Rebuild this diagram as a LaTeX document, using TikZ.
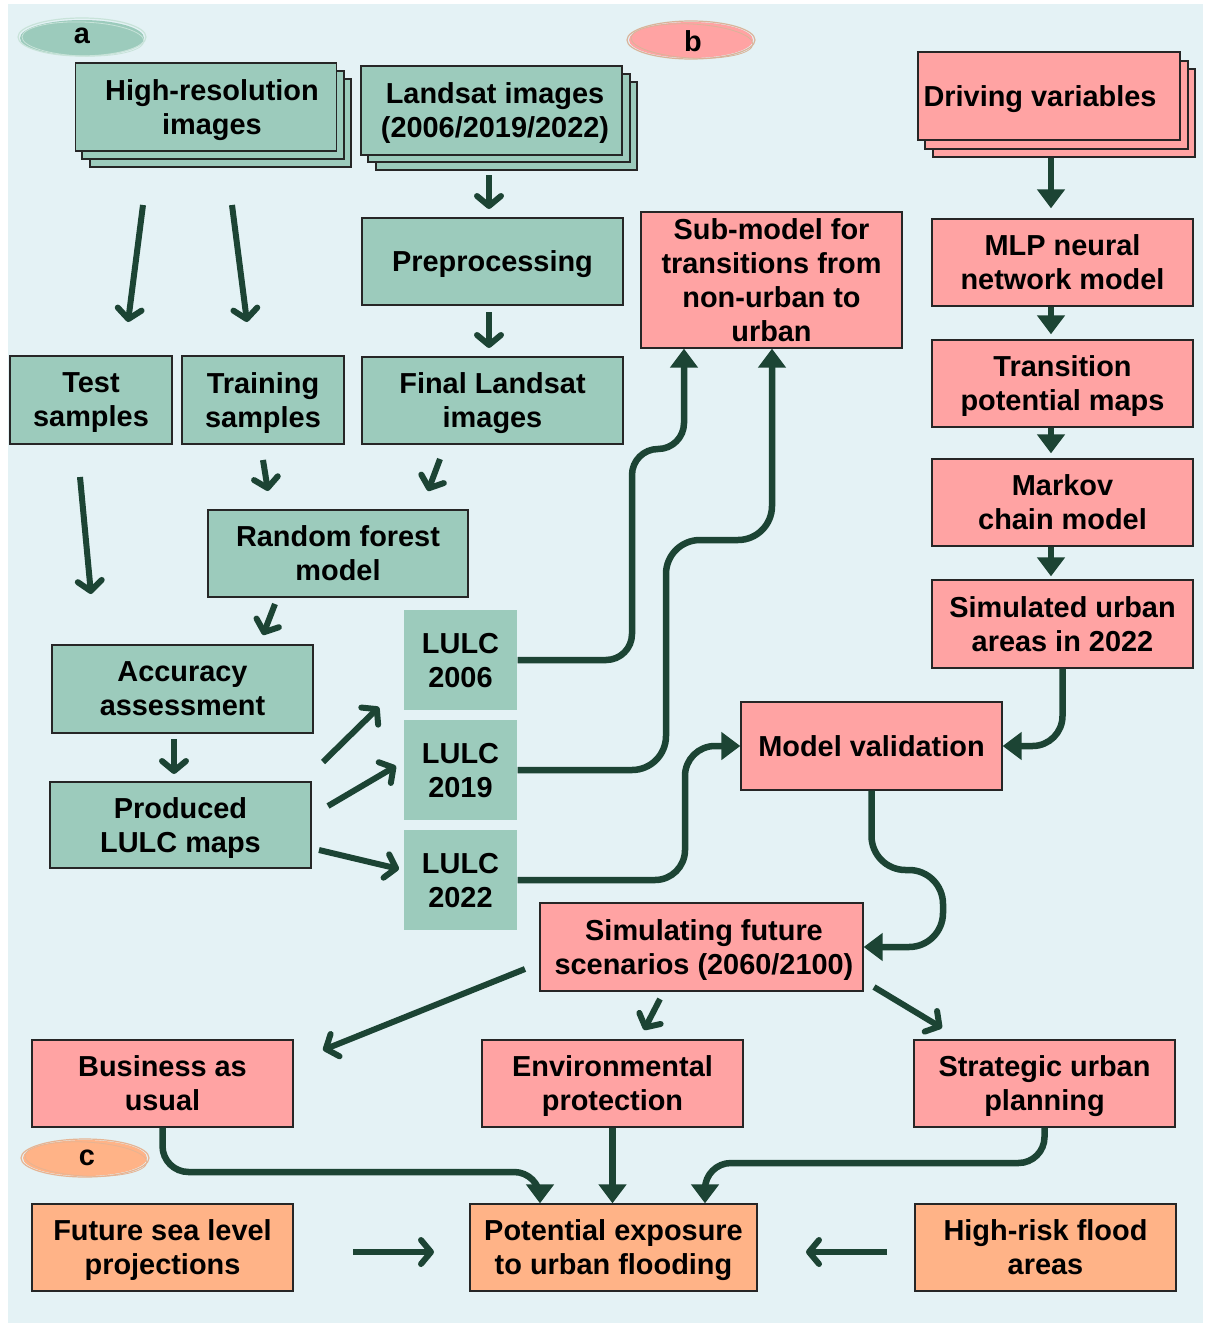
\documentclass[tikz,border=0pt]{standalone}
\usepackage{fontspec}
\setmainfont{Liberation Sans}
\usetikzlibrary{arrows.meta}
\definecolor{bgc}{HTML}{E4F2F5}
\definecolor{gfill}{HTML}{9CCBBC}
\definecolor{pfill}{HTML}{FFA3A3}
\definecolor{ofill}{HTML}{FFB387}
\definecolor{arrc}{HTML}{1C4434}
\definecolor{bordc}{HTML}{262626}
\definecolor{gline}{HTML}{C8E3D9}
\definecolor{pline}{HTML}{D9B49A}
\definecolor{oline}{HTML}{E6B493}
\tikzset{
  box/.style={draw=bordc, line width=1.3pt, font=\fontsize{28.9}{34}\selectfont\bfseries,
    align=center, inner sep=0pt, text=black, text depth=0pt},
  gbox/.style={box, fill=gfill},
  pbox/.style={box, fill=pfill},
  obox/.style={box, fill=ofill},
  lbox/.style={box, draw=none, fill=gfill, minimum width=113pt, minimum height=100pt},
  stackg/.style={draw=bordc, line width=1.3pt, fill=gfill},
  stackp/.style={draw=bordc, line width=1.3pt, fill=pfill},
  con/.style={draw=arrc, line width=6.5pt, -{Triangle[length=19pt,width=27pt]}},
  freearr/.style={draw=arrc, line width=6pt, -{Straight Barb[length=10pt,width=24pt,round]}},
  tag/.style={font=\fontsize{28.9}{34}\selectfont\bfseries, inner sep=0pt, text=black}
}
\begin{document}
\begin{tikzpicture}[x=1pt,y=-1pt]
\useasboundingbox (0,0) rectangle (1205,1328);
\fill[white] (0,0) rectangle (1205,1328);
\fill[bgc] (8,4) rectangle (1203,1323);

% panel tags
\fill[gfill] (82,38) ellipse [x radius=62, y radius=18];
\draw[gline, line width=1.2pt] (82,37) ellipse [x radius=64, y radius=19];
\draw[gline, line width=0.8pt, rotate around={-2:(82,38)}] (83,39) ellipse [x radius=61, y radius=17];
\node[tag] (ta) at (82,36) {a};
\fill[pfill] (691,40) ellipse [x radius=62, y radius=18];
\draw[pline, line width=1.2pt] (691,40) ellipse [x radius=64, y radius=19];
\draw[pline, line width=0.8pt, rotate around={-3:(691,40)}] (692,41) ellipse [x radius=61, y radius=17];
\node[tag] (tb) at (693,41) {b};
\fill[ofill] (85,1158) ellipse [x radius=62, y radius=18];
\draw[oline, line width=1.2pt] (85,1158) ellipse [x radius=64, y radius=19];
\draw[oline, line width=0.8pt, rotate around={-3:(85,1158)}] (86,1159) ellipse [x radius=61, y radius=17];
\node[tag] (tc) at (87,1158) {c};

% stacked copies
\draw[stackg] (90,79) rectangle (351,167);
\draw[stackg] (82,71) rectangle (344,159);
\draw[stackg] (376,82) rectangle (637,170);
\draw[stackg] (368,74) rectangle (630,162);
\draw[stackp] (933,69) rectangle (1195,157);
\draw[stackp] (925,61) rectangle (1188,149);

% green boxes
\node[gbox, minimum width=261pt, minimum height=88pt] (hr) at (206,107) {\hspace*{12pt}High-resolution\\\hspace*{12pt}images};
\node[gbox, minimum width=261pt, minimum height=89pt] (ls) at (491.5,110.5) {\hspace*{7pt}Landsat images\\\hspace*{7pt}(2006/2019/2022)};
\node[gbox, minimum width=261pt, minimum height=87pt] (pp) at (492.5,261.5) {Preprocessing};
\node[gbox, minimum width=261pt, minimum height=87pt] (fl) at (492.5,400.5) {Final Landsat\\images};
\node[gbox, minimum width=162pt, minimum height=88pt] (ts) at (91,400) {Test\\samples};
\node[gbox, minimum width=162pt, minimum height=88pt] (tr) at (263,400) {Training\\samples};
\node[gbox, minimum width=260pt, minimum height=87pt] (rf) at (338,553.5) {Random forest\\model};
\node[gbox, minimum width=261pt, minimum height=88pt] (aa) at (182.5,689) {Accuracy\\assessment};
\node[gbox, minimum width=261pt, minimum height=86pt] (pm) at (180.5,825) {Produced\\LULC maps};
\node[lbox] (l06) at (460.5,660) {LULC\\2006};
\node[lbox] (l19) at (460.5,770) {LULC\\2019};
\node[lbox] (l22) at (460.5,880) {LULC\\2022};

% pink boxes
\node[pbox, minimum width=261pt, minimum height=136pt] (sub) at (771.5,280) {Sub-model for\\transitions from\\non-urban to\\urban};
\node[pbox, minimum width=262pt, minimum height=88pt] (dv) at (1049,96) {Driving variables\hspace*{18pt}};
\node[pbox, minimum width=261pt, minimum height=87pt] (mlp) at (1062.5,262.5) {MLP neural\\network model};
\node[pbox, minimum width=261pt, minimum height=87pt] (tp) at (1062.5,383.5) {Transition\\potential maps};
\node[pbox, minimum width=261pt, minimum height=87pt] (mk) at (1062.5,502.5) {Markov\\chain model};
\node[pbox, minimum width=261pt, minimum height=88pt] (su) at (1062.5,624) {Simulated urban\\areas in 2022};
\node[pbox, minimum width=261pt, minimum height=88pt] (mv) at (871.5,746) {Model validation};
\node[pbox, minimum width=323pt, minimum height=88pt] (sf) at (701.5,947) {\hspace*{5pt}Simulating future\\\hspace*{5pt}scenarios (2060/2100)};
\node[pbox, minimum width=261pt, minimum height=87pt] (bau) at (162.5,1083.5) {Business as\\usual};
\node[pbox, minimum width=261pt, minimum height=87pt] (ep) at (612.5,1083.5) {Environmental\\protection};
\node[pbox, minimum width=261pt, minimum height=87pt] (sup) at (1044.5,1083.5) {Strategic urban\\planning};

% orange boxes
\node[obox, minimum width=261pt, minimum height=87pt] (fsl) at (162.5,1247.5) {Future sea level\\projections};
\node[obox, minimum width=287pt, minimum height=87pt] (pe) at (613.5,1247.5) {Potential exposure\\to urban flooding};
\node[obox, minimum width=261pt, minimum height=87pt] (hrf) at (1045.5,1247.5) {High-risk flood\\areas};

% free-standing arrows
\coordinate (f1a) at (143,205); \coordinate (f1b) at (128,322);
\coordinate (f2a) at (232,205); \coordinate (f2b) at (247,322);
\coordinate (f5a) at (80,477);  \coordinate (f5b) at (91,594);
\coordinate (f6a) at (263,460); \coordinate (f6b) at (268,491);
\coordinate (f7a) at (440,459); \coordinate (f7b) at (428,491);
\coordinate (f8a) at (275,604); \coordinate (f8b) at (263,635);
\coordinate (f9a) at (174,739); \coordinate (f9b) at (174,774);
\coordinate (f10a) at (323,762); \coordinate (f10b) at (379,707);
\coordinate (f11a) at (328,806); \coordinate (f11b) at (396,766);
\coordinate (f12a) at (319,850); \coordinate (f12b) at (399,869);
\coordinate (f13a) at (525,969); \coordinate (f13b) at (323,1050);
\coordinate (f14a) at (660,999); \coordinate (f14b) at (644,1030);
\coordinate (f15a) at (874,987); \coordinate (f15b) at (942,1028);
\coordinate (f16a) at (353,1252); \coordinate (f16b) at (434,1252);
\coordinate (f17a) at (887,1252); \coordinate (f17b) at (806,1252);
\coordinate (f3a) at (489,175); \coordinate (f3b) at (489,209);
\coordinate (f4a) at (489,312); \coordinate (f4b) at (489,348);
\foreach \i in {1,2,3,4,5,6,7,8,9,10,11,12,13,14,15,16,17}
  \draw[freearr] (f\i a) -- (f\i b);

% right column
\coordinate (colx) at (1051,0);
\draw[con, shorten <=17pt, shorten >=10pt] (dv.south -| colx) -- (mlp.north -| colx);
\draw[con, shorten >=5pt] (mlp.south -| colx) -- (tp.north -| colx);
\draw[con, shorten >=5pt] (tp.south -| colx) -- (mk.north -| colx);
\draw[con, shorten >=3pt] (mk.south -| colx) -- (su.north -| colx);

% curved connectors
\coordinate (a1) at (684,449);
\coordinate (a2) at (772,540);
\coordinate (a6) at (540,1172);
\coordinate (a8) at (705,1163);
\draw[con, rounded corners=26pt] (l06.east) -- (632,660) -- (632,449) -- (a1) -- (sub.south -| a1);
\draw[con, rounded corners=34pt] (l19.east) -- (666,770) -- (666,540) -- (a2) -- (sub.south -| a2);
\draw[con, rounded corners=30pt] (l22.east) -- (685,880) -- (685,746) -- (mv.west);
\draw[con, rounded corners=30pt] (su.south) -- (1062.5,746) -- (mv.east);
\draw[con, rounded corners=34pt] (mv.south) -- (871.5,870) -- (943,870) -- (943,947) -- (sf.east);
\draw[con, rounded corners=26pt] (bau.south) -- (162.5,1172) -- (a6) -- (pe.north -| a6);
\draw[con] (ep.south) -- (ep.south |- pe.north);
\draw[con, rounded corners=26pt] (sup.south) -- (1044.5,1163) -- (a8) -- (pe.north -| a8);
\end{tikzpicture}
\end{document}
